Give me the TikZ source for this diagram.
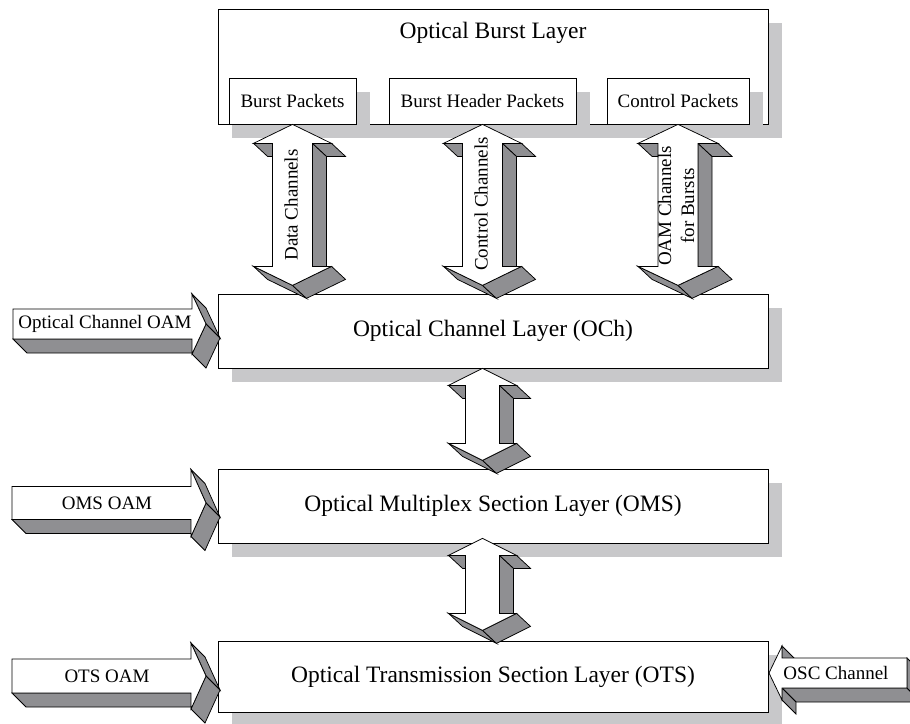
\documentclass[tikz,border=0pt]{standalone}
\usepackage{fontspec}
\setmainfont{Liberation Serif}
\usetikzlibrary{calc,shadows}

\definecolor{sidegray}{RGB}{143,143,146}
\definecolor{shadowgray}{RGB}{200,200,202}

\tikzset{
  outline/.style={line width=0.75pt, line join=miter},
  face/.style={outline, draw=black, fill=sidegray},
  front/.style={outline, draw=black, fill=white},
  boxshadow/.style={general shadow={fill=shadowgray, shadow xshift=14pt, shadow yshift=-14pt}},
  layer/.style={outline, draw=black, fill=white, boxshadow, inner sep=0pt,
                minimum width=550pt, font=\fontsize{23.5}{27}\selectfont},
  packet/.style={outline, draw=black, fill=white, boxshadow, inner sep=0pt,
                 minimum height=46pt, font=\fontsize{19}{22}\selectfont},
  smalltext/.style={font=\fontsize{19}{23}\selectfont, inner sep=0pt},
  bigtext/.style={font=\fontsize{23.5}{27}\selectfont, inner sep=0pt},
  % vertical double-headed block arrow, tip at the origin, pointing up and down
  % #1 tip-to-tip length, #2 half shaft width, #3 half head width, #4 head height
  pics/dblarrow/.style args={#1/#2/#3/#4}{code={
    \pgfmathsetmacro\aL{#1}\pgfmathsetmacro\aS{#2}
    \pgfmathsetmacro\aW{#3}\pgfmathsetmacro\aH{#4}
    \pgfmathsetmacro\aB{\aL-\aH}
    \filldraw[face] (-\aW,\aH) -- (-\aS,\aH) -- (-\aS+14,\aH+13) -- (-\aW+14,\aH+13) -- cycle;
    \filldraw[face] (\aS,\aH) -- (\aS+14,\aH+13) -- (\aS+14,\aB+13) -- (\aS,\aB) -- cycle;
    \filldraw[face] (\aS,\aH) -- (\aW,\aH) -- (\aW+14,\aH+13) -- (\aS+14,\aH+13) -- cycle;
    \filldraw[face] (-\aW,\aB) -- (0,\aL) -- (14,\aL+13) -- (-\aW+14,\aB+13) -- cycle;
    \filldraw[face] (\aW,\aB) -- (0,\aL) -- (14,\aL+13) -- (\aW+14,\aB+13) -- cycle;
    \filldraw[front] (0,0) -- (\aW,\aH) -- (\aS,\aH) -- (\aS,\aB) -- (\aW,\aB) -- (0,\aL)
      -- (-\aW,\aB) -- (-\aS,\aB) -- (-\aS,\aH) -- (-\aW,\aH) -- cycle;
  }},
  % right-pointing block arrow, front tip at the origin
  % #1 body length, #2 head length, #3 body height, #4 wing
  pics/rarrow/.style args={#1/#2/#3/#4}{code={
    \pgfmathsetmacro\aL{#1}\pgfmathsetmacro\aH{#2}
    \pgfmathsetmacro\aT{#3/2}\pgfmathsetmacro\aG{#4}
    \pgfmathsetmacro\aX{-\aH}\pgfmathsetmacro\aXl{-\aH-\aL}
    \pgfmathsetmacro\aU{-\aT-\aG}\pgfmathsetmacro\aD{\aT+\aG}
    \filldraw[face] (\aXl,\aT) -- (\aX,\aT) -- (\aX+14,\aT+14) -- (\aXl+14,\aT+14) -- cycle;
    \filldraw[face] (\aX,\aU) -- (0,0) -- (14,14) -- (\aX+14,\aU+14) -- cycle;
    \filldraw[face] (0,0) -- (\aX,\aD) -- (\aX+14,\aD+14) -- (14,14) -- cycle;
    \filldraw[front] (\aXl,-\aT) -- (\aX,-\aT) -- (\aX,\aU) -- (0,0) -- (\aX,\aD)
      -- (\aX,\aT) -- (\aXl,\aT) -- cycle;
  }},
  % left-pointing block arrow, front tip at the origin
  pics/larrow/.style args={#1/#2/#3/#4}{code={
    \pgfmathsetmacro\aL{#1}\pgfmathsetmacro\aH{#2}
    \pgfmathsetmacro\aT{#3/2}\pgfmathsetmacro\aG{#4}
    \pgfmathsetmacro\aX{\aH}\pgfmathsetmacro\aXr{\aH+\aL}
    \pgfmathsetmacro\aU{-\aT-\aG}\pgfmathsetmacro\aD{\aT+\aG}
    \filldraw[face] (\aX,\aT) -- (\aXr,\aT) -- (\aXr+14,\aT+14) -- (\aX+14,\aT+14) -- cycle;
    \filldraw[face] (\aXr,-\aT) -- (\aXr,\aT) -- (\aXr+14,\aT+14) -- (\aXr+14,-\aT+14) -- cycle;
    \filldraw[face] (\aX,\aU) -- (\aX,-\aT) -- (\aX+14,-\aT+14) -- (\aX+14,\aU+14) -- cycle;
    \filldraw[face] (\aX,\aT) -- (\aX,\aD) -- (\aX+14,\aD+14) -- (\aX+14,\aT+14) -- cycle;
    \filldraw[front] (\aXr,-\aT) -- (\aX,-\aT) -- (\aX,\aU) -- (0,0) -- (\aX,\aD)
      -- (\aX,\aT) -- (\aXr,\aT) -- cycle;
  }},
}

\begin{document}
\begin{tikzpicture}[x=1pt,y=-1pt]
\useasboundingbox (0,0) rectangle (910,723);
\clip (0,0) rectangle (910,723);

% optical burst layer with its three packet types
\node[layer, minimum height=115pt] (obl) at (493,66.5) {};
\node[bigtext] (obltitle) at (493,33) {Optical Burst Layer};
\node[packet, minimum width=127pt] (bp) at (292.5,101) {Burst Packets};
\node[packet, minimum width=187pt] (bh) at (482.5,101) {Burst Header Packets};
\node[packet, minimum width=142pt] (cp) at (678,101) {Control Packets};

% transport layers
\node[layer, minimum height=74pt] (och) at (493,331) {Optical Channel Layer (OCh)};
\node[layer, minimum height=74pt] (oms) at (493,506) {Optical Multiplex Section Layer (OMS)};
\node[layer, minimum height=71pt] (ots) at (493,676.5) {Optical Transmission Section Layer (OTS)};

% channels between the burst layer and the OCh layer
\pic at (bp.south) {dblarrow=161/20/39/19};
\pic at (bh.south) {dblarrow=161/20/39/19};
\pic at (cp.south) {dblarrow=161/20/40/19};
\node[smalltext, rotate=90] (dc) at (291,205) {Data Channels};
\node[smalltext, rotate=90] (cc) at (481,204) {Control Channels};
\node[smalltext, rotate=90, align=center] (oc) at (676,206) {OAM Channels\\for Bursts};

% adaptation between transport layers
\pic at (och.south -| bh.south) {dblarrow=92/17/34/17};
\pic at ($(oms.south -| bh.south)+(0,-5)$) {dblarrow=92/17/34/17};

% OAM inputs to each layer
\coordinate (ochin) at (206,324);
\coordinate (omsin) at (206,503);
\coordinate (otsin) at (206,676);
\coordinate (oscin) at (769,673);
\pic at (ochin) {rarrow=179/14/30/15};
\pic at (omsin) {rarrow=179/15/33/17};
\pic at (otsin) {rarrow=179/15/34/16};
\pic at (oscin) {larrow=125/13/30/12};
\node[smalltext] (ochoam) at (105,324) {Optical Channel OAM};
\node[smalltext] (omsoam) at (107,503) {OMS OAM};
\node[smalltext] (otsoam) at (107,676) {OTS OAM};
\node[smalltext] (osc) at (836,673) {OSC Channel};
\end{tikzpicture}
\end{document}
